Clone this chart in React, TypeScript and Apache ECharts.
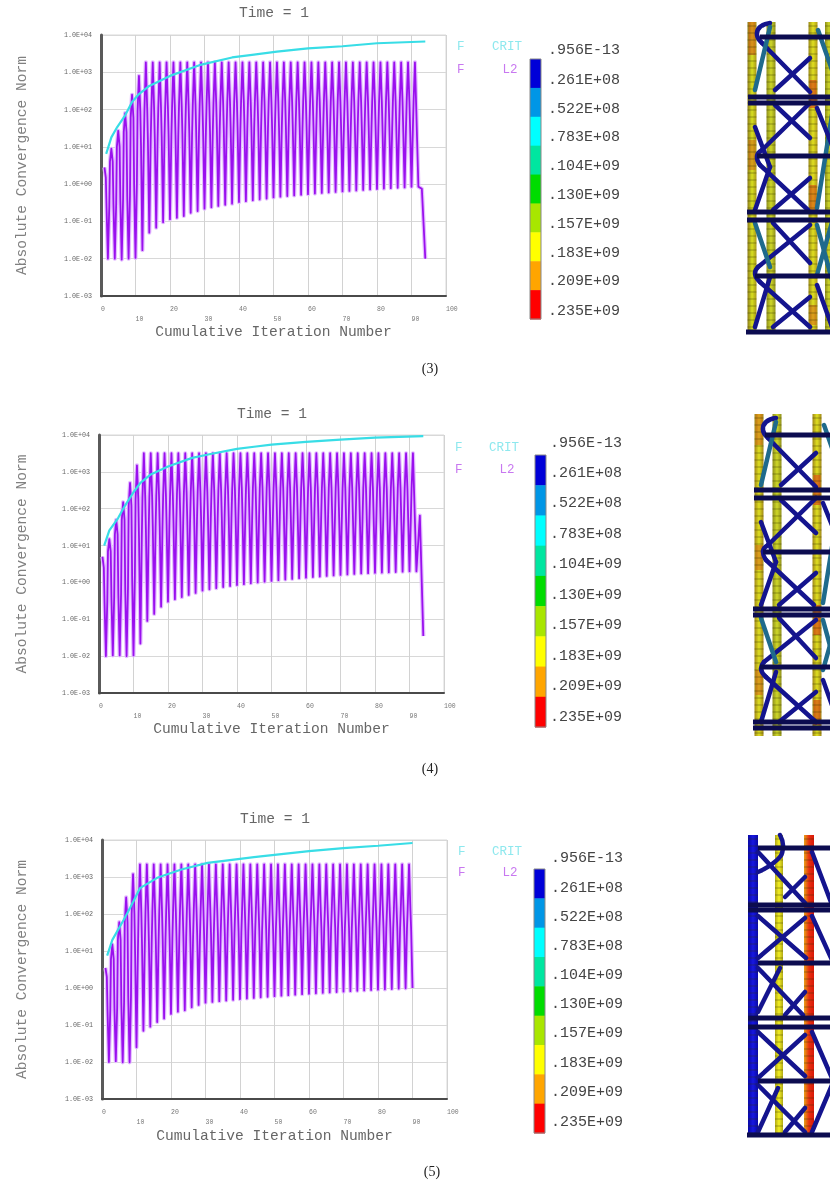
import React, { useEffect, useRef } from "react";
import * as echarts from "echarts";

const yTickLabels = ["1.0E-03", "1.0E-02", "1.0E-01", "1.0E+00", "1.0E+01", "1.0E+02", "1.0E+03", "1.0E+04"];
const contourLabels = [".956E-13", ".261E+08", ".522E+08", ".783E+08", ".104E+09", ".130E+09", ".157E+09", ".183E+09", ".209E+09", ".235E+09"];
const contourColors = ["#0000d8", "#0096e6", "#00ffff", "#00e6a0", "#00dc00", "#a8e600", "#ffff00", "#ffa500", "#ff0000"];

// F L2: maxima at odd iterations, minima at even iterations.
// kneeHi: level where a maximum's bar opens into the pale band; kneeLo: level where the band closes into a minimum's bar.
const peaks3 = [2.8, 8.9, 27, 80, 250, 800, 1850, 1850, 1850, 1850, 1850, 1850, 1850, 1850, 1850, 1850, 1850, 1850, 1850, 1850, 1850, 1850, 1850, 1850, 1850, 1850, 1850, 1850, 1850, 1850, 1850, 1850, 1850, 1850, 1850, 1850, 1850, 1850, 1850, 1850, 1850, 1850, 1850, 1850, 1850, 1850];
const kneeHi3 = [1.5, 4, 10, 25, 60, 90, 100, 100, 105, 110, 115, 120, 125, 130, 135, 140, 145, 150, 155, 160, 160, 160, 160, 160, 160, 160, 160, 160, 160, 160, 160, 160, 160, 160, 160, 160, 160, 160, 160, 160, 160, 160, 160, 160, 160, 160];
const kneeLo3 = [0.25, 0.3, 0.4, 0.5, 1, 10, 14, 16, 18, 19, 20, 21, 22, 23, 24, 25, 26, 27, 28, 29, 30, 31, 31, 31, 31, 31, 31, 31, 31, 31, 31, 31, 31, 31, 31, 31, 31, 31, 31, 31, 31, 31, 31, 31, 31];
const lows3 = [0.01, 0.01, 0.0095, 0.01, 0.0105, 0.017, 0.05, 0.068, 0.095, 0.115, 0.125, 0.14, 0.17, 0.19, 0.22, 0.24, 0.26, 0.28, 0.3, 0.33, 0.35, 0.37, 0.39, 0.41, 0.44, 0.46, 0.48, 0.5, 0.52, 0.54, 0.56, 0.58, 0.6, 0.62, 0.64, 0.66, 0.68, 0.7, 0.72, 0.74, 0.76, 0.78, 0.8, 0.82, 0.85];
const tailX3 = [92, 93, 94];
const tailY3 = [0.85, 0.75, 0.01];
const critX3 = [1.5, 3, 4.7, 7, 9, 11, 14, 20, 28.5, 38, 51, 60, 70, 80, 94];
const critY3 = [6.5, 18, 34, 70, 160, 260, 430, 800, 1550, 2500, 3600, 4400, 5000, 6000, 6700];

const peaks4 = [5, 15, 50, 150, 500, 1500, 3200, 3200, 3200, 3200, 3200, 3200, 3200, 3200, 3200, 3200, 3200, 3200, 3200, 3200, 3200, 3200, 3200, 3200, 3200, 3200, 3200, 3200, 3200, 3200, 3200, 3200, 3200, 3200, 3200, 3200, 3200, 3200, 3200, 3200, 3200, 3200, 3200, 3200, 3200, 3200];
const kneeHi4 = [2.5, 7, 20, 50, 120, 180, 200, 210, 220, 230, 240, 250, 260, 270, 280, 290, 300, 310, 320, 330, 340, 350, 350, 350, 350, 350, 350, 350, 350, 350, 350, 350, 350, 350, 350, 350, 350, 350, 350, 350, 350, 350, 350, 350, 350, 350];
const kneeLo4 = [0.3, 0.4, 0.5, 0.7, 1.5, 15, 25, 30, 33, 36, 39, 42, 45, 48, 50, 52, 54, 56, 58, 60, 60, 60, 60, 60, 60, 60, 60, 60, 60, 60, 60, 60, 60, 60, 60, 60, 60, 60, 60, 60, 60, 60, 60, 60, 60];
const lows4 = [0.01, 0.0105, 0.0105, 0.01, 0.0105, 0.022, 0.09, 0.14, 0.22, 0.3, 0.35, 0.4, 0.46, 0.52, 0.6, 0.65, 0.7, 0.75, 0.8, 0.85, 0.9, 0.95, 1.0, 1.05, 1.1, 1.15, 1.2, 1.25, 1.3, 1.35, 1.4, 1.45, 1.5, 1.55, 1.6, 1.65, 1.7, 1.75, 1.78, 1.82, 1.85, 1.88, 1.92, 1.96, 2.0];
const tailX4 = [92, 93, 94];
const tailY4 = [2, 65, 0.035];
const critX4 = [1.5, 3, 5.5, 7.5, 10, 12, 15, 20, 27, 32, 40, 50, 60, 70, 80, 94];
const critY4 = [10, 26, 55, 120, 280, 500, 850, 1400, 2400, 3000, 4200, 5500, 6500, 7500, 8500, 9300];

const peaks5 = [3.5, 15, 60, 280, 1200, 2200, 2200, 2200, 2200, 2200, 2200, 2200, 2200, 2200, 2200, 2200, 2200, 2200, 2200, 2200, 2200, 2200, 2200, 2200, 2200, 2200, 2200, 2200, 2200, 2200, 2200, 2200, 2200, 2200, 2200, 2200, 2200, 2200, 2200, 2200, 2200, 2200, 2200, 2200, 2200];
const kneeHi5 = [2, 6, 20, 60, 100, 110, 110, 110, 115, 115, 120, 120, 125, 125, 130, 130, 130, 130, 130, 130, 130, 130, 130, 130, 130, 130, 130, 130, 130, 130, 130, 130, 130, 130, 130, 130, 130, 130, 130, 130, 130, 130, 130, 130, 130];
const kneeLo5 = [0.25, 0.3, 0.4, 0.6, 8, 14, 16, 18, 20, 21, 22, 23, 24, 25, 26, 27, 28, 29, 30, 31, 32, 33, 34, 35, 36, 37, 38, 39, 40, 40, 40, 40, 40, 40, 40, 40, 40, 40, 40, 40, 40, 40, 40, 40, 40];
const lows5 = [0.01, 0.0105, 0.0098, 0.0098, 0.025, 0.07, 0.09, 0.12, 0.15, 0.2, 0.23, 0.25, 0.3, 0.35, 0.4, 0.42, 0.44, 0.46, 0.48, 0.5, 0.52, 0.54, 0.56, 0.58, 0.6, 0.62, 0.64, 0.66, 0.68, 0.7, 0.72, 0.74, 0.76, 0.78, 0.8, 0.82, 0.84, 0.86, 0.88, 0.9, 0.92, 0.94, 0.96, 0.98, 1.0];
const tailX5: number[] = [];
const tailY5: number[] = [];
const critX5 = [1.5, 3, 6.3, 8.2, 11, 16, 23, 30.6, 40, 46, 60, 70, 80, 90];
const critY5 = [7.5, 20, 70, 150, 500, 950, 1600, 2400, 3100, 3600, 5000, 6000, 7000, 8300];

const captions = ["(3)", "(4)", "(5)"];

function l2Points(peaks: number[], hi: number[], lo: number[], lows: number[], tx: number[], ty: number[]) {
  const d = 0.4;
  const pts: number[][] = [];
  peaks.forEach((p, i) => {
    const x = i * 2 + 1;
    if (i > 0) pts.push([x - d, hi[i]]);
    pts.push([x, p]);
    if (i < lows.length) {
      pts.push([x + d, hi[i]]);
      pts.push([x + 1 - d, lo[i]]);
      pts.push([x + 1, lows[i]]);
      if (i + 1 < peaks.length) pts.push([x + 1 + d, lo[i]]);
    }
  });
  tx.forEach((x, i) => pts.push([x, ty[i]]));
  return pts;
}

const PANELS = [
  { left: 101, top: 35, w: 345, h: 261, peaks: peaks3, hi: kneeHi3, lo: kneeLo3, lows: lows3, tx: tailX3, ty: tailY3, cx: critX3, cy: critY3, titleX: 272, titleY: 0, yGap: 72, xGap: 27, legX: 457, critX: 507, l2X: 510, legY1: 47, legY2: 70, barX: 530, barY: 59, barH: 260, labX: 548, labY: [50, 80, 109, 137, 166, 195, 224, 253, 281, 311], capX: 430, capY: 368 },
  { left: 99, top: 435, w: 345, h: 258, peaks: peaks4, hi: kneeHi4, lo: kneeLo4, lows: lows4, tx: tailX4, ty: tailY4, cx: critX4, cy: critY4, titleX: 270, titleY: 401, yGap: 70, xGap: 26, legX: 455, critX: 504, l2X: 507, legY1: 448, legY2: 470, barX: 535, barY: 455, barH: 272, labX: 550, labY: [443, 473, 503, 534, 564, 595, 625, 656, 686, 717], capX: 430, capY: 768 },
  { left: 102, top: 840, w: 345, h: 259, peaks: peaks5, hi: kneeHi5, lo: kneeLo5, lows: lows5, tx: tailX5, ty: tailY5, cx: critX5, cy: critY5, titleX: 273, titleY: 806, yGap: 73, xGap: 29, legX: 458, critX: 507, l2X: 510, legY1: 852, legY2: 873, barX: 534, barY: 869, barH: 264, labX: 551, labY: [858, 888, 917, 946, 975, 1004, 1033, 1063, 1092, 1122], capX: 432, capY: 1171 },
];

const MONO = "'Liberation Mono', monospace";
const NAVY = "#14148e";
const DARK = "#0c0c50";
const TEAL = "#1f6a8c";

type Seg = { pts: number[][]; teal?: boolean; smooth?: number };

const bracesA: Seg[] = [
  { pts: [[770, 23], [760, 27], [757, 35], [762, 43]], smooth: 0.5 },
  { pts: [[762, 43], [810, 92]] },
  { pts: [[775, 90], [810, 58]] },
  { pts: [[770, 27], [755, 90]], teal: true },
  { pts: [[775, 105], [810, 138]] },
  { pts: [[810, 103], [762, 150]] },
  { pts: [[762, 150], [757, 156], [760, 165]], smooth: 0.5 },
  { pts: [[760, 165], [808, 210]] },
  { pts: [[773, 210], [810, 178]] },
  { pts: [[755, 127], [770, 167]] },
  { pts: [[770, 167], [755, 210]] },
  { pts: [[773, 223], [810, 263]] },
  { pts: [[810, 225], [758, 267]] },
  { pts: [[758, 267], [755, 274], [760, 282]], smooth: 0.5 },
  { pts: [[760, 282], [810, 327]] },
  { pts: [[773, 327], [810, 297]] },
  { pts: [[755, 223], [770, 267]], teal: true },
  { pts: [[770, 277], [755, 327]] },
  { pts: [[818, 30], [832, 70]], teal: true },
  { pts: [[832, 115], [817, 208]], teal: true },
  { pts: [[817, 225], [832, 280]], teal: true },
  { pts: [[832, 222], [817, 275]], teal: true },
  { pts: [[817, 108], [832, 145]] },
  { pts: [[817, 285], [832, 327]] },
];

const bracesB: Seg[] = [
  { pts: [[758, 852], [805, 903]] },
  { pts: [[785, 897], [805, 877]] },
  { pts: [[780, 835], [783, 848], [777, 860], [758, 872]], smooth: 0.5 },
  { pts: [[758, 916], [806, 958]] },
  { pts: [[805, 918], [758, 958]] },
  { pts: [[758, 968], [803, 1015]] },
  { pts: [[785, 1015], [805, 992]] },
  { pts: [[758, 1012], [780, 968]] },
  { pts: [[758, 1032], [805, 1076]] },
  { pts: [[805, 1035], [758, 1078]] },
  { pts: [[758, 1085], [805, 1132]] },
  { pts: [[785, 1132], [805, 1108]] },
  { pts: [[758, 1132], [778, 1088]] },
  { pts: [[812, 852], [832, 905]] },
  { pts: [[812, 916], [832, 960]] },
  { pts: [[812, 1032], [832, 1078]] },
  { pts: [[812, 1132], [832, 1085]] },
];

type Col = { x: number; w: number; y0: number; y1: number; stops: string[]; hot: number[][] };

const colsA: Col[] = [
  { x: 752, w: 9, y0: 22, y1: 331, stops: ["#8a7a18", "#d8e020", "#a89818"], hot: [[22, 55, 0.6], [140, 170, 0.5]] },
  { x: 771, w: 9, y0: 22, y1: 331, stops: ["#8f8f1c", "#cfd828", "#8f8f1c"], hot: [] },
  { x: 813, w: 9, y0: 22, y1: 331, stops: ["#9a8a18", "#e0e020", "#b09a18"], hot: [[80, 108, 0.8], [185, 212, 0.7], [305, 325, 0.5]] },
  { x: 829, w: 8, y0: 22, y1: 331, stops: ["#8f8f1c", "#cfd828", "#8f8f1c"], hot: [] },
];
const colsB: Col[] = [
  { x: 759, w: 9, y0: 414, y1: 736, stops: ["#a08818", "#e0e020", "#a08818"], hot: [[414, 445, 0.5], [545, 570, 0.5], [670, 695, 0.5]] },
  { x: 777, w: 9, y0: 414, y1: 736, stops: ["#8f8f1c", "#cfd828", "#8f8f1c"], hot: [] },
  { x: 817, w: 9, y0: 414, y1: 736, stops: ["#a08818", "#e0e020", "#a08818"], hot: [[475, 505, 0.8], [605, 635, 0.8], [700, 725, 0.8]] },
];
const colsC: Col[] = [
  { x: 753, w: 10, y0: 835, y1: 1135, stops: ["#0808a8", "#1818e0", "#0808a8"], hot: [] },
  { x: 779, w: 8, y0: 835, y1: 1135, stops: ["#b0a818", "#f4f020", "#b0a818"], hot: [] },
  { x: 809, w: 10, y0: 835, y1: 1135, stops: ["#e8a018", "#e83010", "#d81808"], hot: [] },
];

const beams = [
  { y: [37, 97, 103, 156, 212, 220, 276, 332], x: [760, 748, 748, 757, 747, 747, 755, 746] },
  { y: [435, 490, 498, 552, 609, 615, 667, 722, 728], x: [765, 754, 754, 763, 753, 753, 760, 753, 753] },
  { y: [848, 905, 910, 963, 1018, 1027, 1081, 1135], x: [758, 748, 748, 758, 748, 748, 758, 747] },
];

function towerGraphics() {
  const out: any[] = [];
  const addCol = (c: Col) => {
    const grad = new echarts.graphic.LinearGradient(0, 0, 1, 0, [
      { offset: 0, color: c.stops[0] },
      { offset: 0.5, color: c.stops[1] },
      { offset: 1, color: c.stops[2] },
    ]);
    out.push({ type: "rect", silent: true, shape: { x: c.x - c.w / 2, y: c.y0, width: c.w, height: c.y1 - c.y0 }, style: { fill: grad } });
    c.hot.forEach((h) =>
      out.push({ type: "rect", silent: true, shape: { x: c.x - c.w / 2 + 1, y: h[0], width: c.w - 2, height: h[1] - h[0] }, style: { fill: "#d83010", opacity: h[2] * 0.7 } })
    );
    for (let y = c.y0 + 4; y < c.y1; y += 7) {
      out.push({ type: "line", silent: true, shape: { x1: c.x - c.w / 2, y1: y, x2: c.x + c.w / 2, y2: y }, style: { stroke: "rgba(50,50,0,0.4)", lineWidth: 1 } });
    }
  };
  const addBrace = (b: Seg, dx: number, dy: number) => {
    out.push({
      type: "polyline",
      silent: true,
      shape: { points: b.pts.map((p) => [p[0] + dx, p[1] + dy]), smooth: b.smooth || 0 },
      style: { stroke: b.teal ? TEAL : NAVY, lineWidth: 4.5, fill: "none", lineCap: "round" },
    });
  };
  colsA.forEach(addCol);
  bracesA.forEach((b) => addBrace(b, 0, 0));
  colsB.forEach(addCol);
  bracesA.forEach((b) => addBrace(b, 6, 395));
  colsC.forEach(addCol);
  bracesB.forEach((b) => addBrace(b, 0, 0));
  beams.forEach((row) =>
    row.y.forEach((y, i) =>
      out.push({ type: "rect", silent: true, shape: { x: row.x[i], y: y - 2.5, width: 830 - row.x[i], height: 5 }, style: { fill: DARK } })
    )
  );
  return out;
}

function panelGraphics() {
  const out: any[] = [];
  const txt = (text: string, x: number, y: number, size: number, fill: string, family = MONO, align = "left") =>
    out.push({ type: "text", silent: true, style: { text, x, y, fill, fontFamily: family, fontSize: size, textAlign: align, textVerticalAlign: "middle" } });
  PANELS.forEach((p, k) => {
    txt("F", p.legX, p.legY1, 12.5, "#8ee8ee");
    txt("CRIT", p.critX, p.legY1, 12.5, "#8ee8ee", MONO, "center");
    txt("F", p.legX, p.legY2, 12.5, "#c878f0");
    txt("L2", p.l2X, p.legY2, 12.5, "#c878f0", MONO, "center");
    const seg = p.barH / contourColors.length;
    contourColors.forEach((c, i) =>
      out.push({ type: "rect", silent: true, shape: { x: p.barX, y: p.barY + seg * i, width: 11, height: seg + 0.5 }, style: { fill: c } })
    );
    out.push({ type: "rect", silent: true, shape: { x: p.barX, y: p.barY, width: 11, height: p.barH }, style: { fill: "none", stroke: "#888", lineWidth: 1 } });
    contourLabels.forEach((t, i) => txt(t, p.labX, p.labY[i], 15, "#444"));
    txt(captions[k], p.capX, p.capY, 14, "#222", "'Liberation Serif', serif", "center");
  });
  return out;
}

export default function App() {
  const ref = useRef<HTMLDivElement>(null);
  useEffect(() => {
    const chart = echarts.init(ref.current!, undefined, { renderer: "svg" });
    const grids = PANELS.map((p) => ({ left: p.left, top: p.top, width: p.w, height: p.h, show: true, borderColor: "#d8d8d8", borderWidth: 1, backgroundColor: "transparent" }));
    const xAxes = PANELS.map((p, i) => ({
      type: "value",
      gridIndex: i,
      min: 0,
      max: 100,
      interval: 10,
      name: "Cumulative Iteration Number",
      nameLocation: "middle",
      nameGap: p.xGap,
      nameTextStyle: { fontFamily: MONO, fontSize: 14.6, color: "#666" },
      axisLine: { show: true, lineStyle: { color: "#4a4a4a", width: 2 } },
      axisTick: { show: false },
      splitLine: { show: true, lineStyle: { color: "#d2d2d2", width: 1 } },
      axisLabel: {
        fontFamily: MONO,
        fontSize: 6.5,
        color: "#777",
        margin: 8,
        lineHeight: 10,
        align: "left",
        formatter: (v: number) => (v % 20 === 0 ? String(v) : "\n" + v),
      },
    }));
    const yAxes = PANELS.map((p, i) => ({
      type: "log",
      logBase: 10,
      gridIndex: i,
      min: 0.001,
      max: 10000,
      name: "Absolute Convergence Norm",
      nameLocation: "middle",
      nameGap: p.yGap,
      nameTextStyle: { fontFamily: MONO, fontSize: 14.6, color: "#808080" },
      axisLine: { show: true, onZero: false, lineStyle: { color: "#5a5a5a", width: 3 } },
      axisTick: { show: false },
      minorTick: { show: false },
      minorSplitLine: { show: false },
      splitLine: { show: true, lineStyle: { color: "#d8d8d8", width: 1 } },
      axisLabel: {
        fontFamily: MONO,
        fontSize: 6.7,
        color: "#666",
        margin: 9,
        formatter: (v: number) => yTickLabels[Math.round(Math.log10(v)) + 3] ?? "",
      },
    }));
    const series: any[] = [];
    PANELS.forEach((p, i) => {
      const l2 = l2Points(p.peaks, p.hi, p.lo, p.lows, p.tx, p.ty);
      series.push({
        name: "F L2 halo",
        type: "line",
        xAxisIndex: i,
        yAxisIndex: i,
        data: l2,
        showSymbol: false,
        symbol: "none",
        z: 2,
        lineStyle: { color: "#e4bcff", width: 4.2, join: "round" },
      });
      series.push({
        name: "F L2",
        type: "line",
        xAxisIndex: i,
        yAxisIndex: i,
        data: l2,
        showSymbol: false,
        symbol: "none",
        z: 3,
        lineStyle: { color: "#9a10ee", width: 1.8, join: "round" },
      });
      series.push({
        name: "F CRIT",
        type: "line",
        xAxisIndex: i,
        yAxisIndex: i,
        data: p.cx.map((x, j) => [x, p.cy[j]]),
        showSymbol: false,
        symbol: "none",
        z: 5,
        lineStyle: { color: "#38dde6", width: 2.2 },
      });
    });
    chart.setOption({
      animation: false,
      backgroundColor: "#fff",
      title: PANELS.map((p) => ({
        text: "Time = 1",
        left: p.titleX - 3,
        top: p.titleY,
        textAlign: "center",
        textStyle: { fontFamily: MONO, fontSize: 14.6, fontWeight: "normal", color: "#666" },
      })),
      grid: grids,
      xAxis: xAxes,
      yAxis: yAxes,
      series,
      graphic: [...panelGraphics(), ...towerGraphics()],
    });
    return () => chart.dispose();
  }, []);
  return <div ref={ref} style={{ position: "absolute", left: 0, top: 0, width: 830, height: 1183, filter: "blur(0.6px)" }} />;
}
